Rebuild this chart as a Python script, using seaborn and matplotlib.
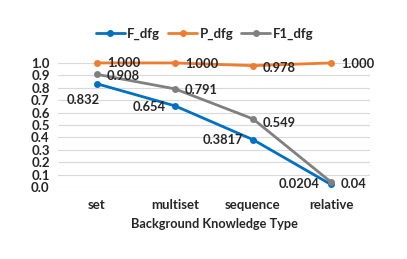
import pandas as pd
import matplotlib.pyplot as plt
import seaborn as sns

# data
categories = ['set', 'multiset', 'sequence', 'relative']
f_dfg = [0.832, 0.654, 0.3817, 0.0204]
p_dfg = [1.000, 1.000, 0.978, 1.000]
f1_dfg = [0.908, 0.791, 0.549, 0.04]
f_labels = ['0.832', '0.654', '0.3817', '0.0204']
p_labels = ['1.000', '1.000', '0.978', '1.000']
f1_labels = ['0.908', '0.791', '0.549', '0.04']

df = pd.DataFrame({'Type': categories, 'F_dfg': f_dfg, 'P_dfg': p_dfg, 'F1_dfg': f1_dfg})
long = df.melt(id_vars='Type', var_name='series', value_name='value')

sns.set_style('white')
plt.rcParams['font.family'] = ['Lato', 'DejaVu Sans']
plt.rcParams['font.weight'] = 'bold'

colors = {'F_dfg': '#0070C0', 'P_dfg': '#ED7D31', 'F1_dfg': '#808080'}

fig = plt.figure(figsize=(4.07, 2.59), dpi=100)
ax = fig.add_axes([0.1425, 0.278, 0.7665, 0.479])

x = list(range(len(categories)))
long['x'] = long['Type'].map({c: i for i, c in enumerate(categories)})
sns.lineplot(data=long, x='x', y='value', hue='series', palette=colors,
             marker='o', markersize=5, markeredgewidth=0, linewidth=2,
             ax=ax, clip_on=False, zorder=3)

ax.set_xlim(-0.5, 3.5)
ax.set_ylim(0, 1.0)
ax.set_yticks([i / 10 for i in range(11)])
ax.set_yticklabels([f'{i / 10:.1f}' for i in range(11)], fontsize=9.5, fontweight='bold')
ax.set_xticks(x)
ax.set_xticklabels(categories, fontsize=9.5, fontweight='bold')
ax.tick_params(axis='x', length=0, pad=9)
ax.tick_params(axis='y', length=0, pad=6)
ax.grid(axis='y', color='#D9D9D9', linewidth=0.8)
ax.set_axisbelow(True)
for s in ax.spines.values():
    s.set_visible(False)
ax.set_ylabel('')
ax.set_xlabel('Background Knowledge Type', fontsize=9.2, fontweight='bold', labelpad=5)

kw = dict(fontsize=9.3, fontweight='bold', va='center', textcoords='offset points')
# F_dfg labels to the left (first one pushed below)
f_offsets = [(2, -11.5), (-7, -0.5), (-7, -0.5), (-8, 0)]
for i in x:
    ax.annotate(f_labels[i], (i, f_dfg[i]), xytext=f_offsets[i], ha='right', **kw)
# P_dfg labels to the right
p_offsets = [(7, 0), (7, -1), (7, -1.5), (7, -1)]
for i in x:
    ax.annotate(p_labels[i], (i, p_dfg[i]), xytext=p_offsets[i], ha='left', **kw)
# F1_dfg labels to the right
f1_offsets = [(7, -1), (7, -1), (7, -3), (7, -1.5)]
for i in x:
    ax.annotate(f1_labels[i], (i, f1_dfg[i]), xytext=f1_offsets[i], ha='left', **kw)

handles, labels = ax.get_legend_handles_labels()
ax.legend(handles, labels, loc='center', bbox_to_anchor=(0.47, 1.234), ncol=3,
          frameon=False, handlelength=2.2, columnspacing=0.6,
          handletextpad=0.2, prop={'weight': 'bold', 'size': 9.5})

fig.savefig('out.png', dpi=100)
